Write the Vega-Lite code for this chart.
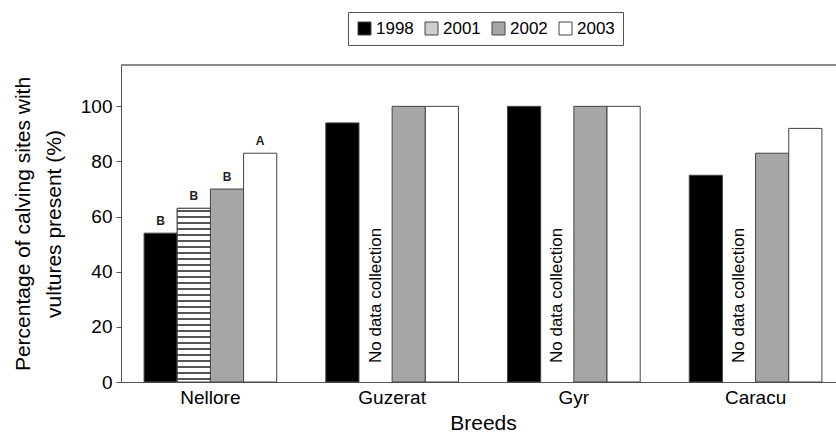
{
  "$schema": "https://vega.github.io/schema/vega-lite/v6.json",
  "width": 715,
  "height": 317,
  "autosize": {"type": "none"},
  "padding": {"left": 121, "top": 65, "right": 0, "bottom": 55},
  "config": {
    "font": "Liberation Sans",
    "view": {"stroke": null},
    "axis": {"labelFont": "Liberation Sans", "titleFont": "Liberation Sans", "labelColor": "#000", "titleColor": "#000"}
  },
  "datasets": {
    "bars": [
      {"breed": "Nellore", "year": "1998", "value": 54, "sig": "B"},
      {"breed": "Nellore", "year": "2001", "value": 63, "sig": "B"},
      {"breed": "Nellore", "year": "2002", "value": 70, "sig": "B"},
      {"breed": "Nellore", "year": "2003", "value": 83, "sig": "A"},
      {"breed": "Guzerat", "year": "1998", "value": 94, "sig": ""},
      {"breed": "Guzerat", "year": "2002", "value": 100, "sig": ""},
      {"breed": "Guzerat", "year": "2003", "value": 100, "sig": ""},
      {"breed": "Gyr", "year": "1998", "value": 100, "sig": ""},
      {"breed": "Gyr", "year": "2002", "value": 100, "sig": ""},
      {"breed": "Gyr", "year": "2003", "value": 100, "sig": ""},
      {"breed": "Caracu", "year": "1998", "value": 75, "sig": ""},
      {"breed": "Caracu", "year": "2002", "value": 83, "sig": ""},
      {"breed": "Caracu", "year": "2003", "value": 92, "sig": ""}
    ],
    "notes": [
      {"breed": "Guzerat", "year": "2001", "note": "No data collection"},
      {"breed": "Gyr", "year": "2001", "note": "No data collection"},
      {"breed": "Caracu", "year": "2001", "note": "No data collection"}
    ]
  },
  "layer": [
    {
      "data": {"name": "bars"},
      "mark": {"type": "bar", "stroke": "#444", "strokeWidth": 1},
      "encoding": {
        "x": {
          "field": "breed", "type": "nominal",
          "sort": ["Nellore", "Guzerat", "Gyr", "Caracu"],
          "scale": {"domain": ["Nellore", "Guzerat", "Gyr", "Caracu"], "range": [0, 724], "paddingInner": 0.27, "paddingOuter": 0.127},
          "axis": {
            "labelAngle": 0, "ticks": false, "tickSize": 0, "domainColor": "#555", "labelFontSize": 19,
            "labelPadding": 6, "title": "Breeds", "titleFontSize": 21, "titleFontWeight": "normal", "titlePadding": 5
          }
        },
        "xOffset": {
          "field": "year", "type": "nominal",
          "scale": {"domain": ["1998", "2001", "2002", "2003"], "paddingInner": 0, "paddingOuter": 0}
        },
        "y": {
          "field": "value", "type": "quantitative",
          "scale": {"domain": [0, 115], "nice": false},
          "axis": {
            "values": [0, 20, 40, 60, 80, 100], "grid": false, "domainColor": "#555", "tickColor": "#555",
            "tickSize": 5, "labelFontSize": 19, "labelPadding": 4,
            "title": ["Percentage of calving sites with", "vultures present (%)"],
            "titleFontSize": 21, "titleFontWeight": "normal", "titlePadding": 16, "titleLineHeight": 31
          }
        },
        "fill": {
          "field": "year", "type": "nominal",
          "scale": {
            "domain": ["1998", "2001", "2002", "2003"],
            "range": ["#000000", "#cdcdcd", "#a6a6a6", "#ffffff"]
          },
          "legend": {
            "orient": "none", "legendX": 227, "legendY": -53, "direction": "horizontal", "title": null,
            "strokeColor": "#555", "padding": 8, "labelFontSize": 17, "labelFont": "Liberation Sans", "labelColor": "#000",
            "symbolType": "square", "symbolSize": 169, "symbolStrokeColor": "#444", "symbolStrokeWidth": 1,
            "columnPadding": 9, "labelOffset": 3,
            "encode": {
              "symbols": {
                "update": {
                  "stroke": {"value": "#444"},
                  "strokeWidth": {"value": 1}
                }
              }
            }
          }
        }
      }
    },
    {
      "data": {"name": "bars"},
      "transform": [{"filter": "datum.year === '2001'"}],
      "mark": {
        "type": "bar", "stroke": "#444", "strokeWidth": 1,
        "fill": {"gradient": "linear", "x1": 0, "y1": 0, "x2": 0, "y2": 1, "stops": [
          {"offset": 0, "color": "#ffffff"},
          {"offset": 0.0121, "color": "#ffffff"}, {"offset": 0.0121, "color": "#555555"}, {"offset": 0.0224, "color": "#555555"}, {"offset": 0.0224, "color": "#ffffff"},
          {"offset": 0.0466, "color": "#ffffff"}, {"offset": 0.0466, "color": "#555555"}, {"offset": 0.0569, "color": "#555555"}, {"offset": 0.0569, "color": "#ffffff"},
          {"offset": 0.0811, "color": "#ffffff"}, {"offset": 0.0811, "color": "#555555"}, {"offset": 0.0914, "color": "#555555"}, {"offset": 0.0914, "color": "#ffffff"},
          {"offset": 0.1155, "color": "#ffffff"}, {"offset": 0.1155, "color": "#555555"}, {"offset": 0.1258, "color": "#555555"}, {"offset": 0.1258, "color": "#ffffff"},
          {"offset": 0.1500, "color": "#ffffff"}, {"offset": 0.1500, "color": "#555555"}, {"offset": 0.1603, "color": "#555555"}, {"offset": 0.1603, "color": "#ffffff"},
          {"offset": 0.1845, "color": "#ffffff"}, {"offset": 0.1845, "color": "#555555"}, {"offset": 0.1948, "color": "#555555"}, {"offset": 0.1948, "color": "#ffffff"},
          {"offset": 0.2190, "color": "#ffffff"}, {"offset": 0.2190, "color": "#555555"}, {"offset": 0.2293, "color": "#555555"}, {"offset": 0.2293, "color": "#ffffff"},
          {"offset": 0.2535, "color": "#ffffff"}, {"offset": 0.2535, "color": "#555555"}, {"offset": 0.2638, "color": "#555555"}, {"offset": 0.2638, "color": "#ffffff"},
          {"offset": 0.2879, "color": "#ffffff"}, {"offset": 0.2879, "color": "#555555"}, {"offset": 0.2982, "color": "#555555"}, {"offset": 0.2982, "color": "#ffffff"},
          {"offset": 0.3224, "color": "#ffffff"}, {"offset": 0.3224, "color": "#555555"}, {"offset": 0.3327, "color": "#555555"}, {"offset": 0.3327, "color": "#ffffff"},
          {"offset": 0.3569, "color": "#ffffff"}, {"offset": 0.3569, "color": "#555555"}, {"offset": 0.3672, "color": "#555555"}, {"offset": 0.3672, "color": "#ffffff"},
          {"offset": 0.3914, "color": "#ffffff"}, {"offset": 0.3914, "color": "#555555"}, {"offset": 0.4017, "color": "#555555"}, {"offset": 0.4017, "color": "#ffffff"},
          {"offset": 0.4259, "color": "#ffffff"}, {"offset": 0.4259, "color": "#555555"}, {"offset": 0.4362, "color": "#555555"}, {"offset": 0.4362, "color": "#ffffff"},
          {"offset": 0.4603, "color": "#ffffff"}, {"offset": 0.4603, "color": "#555555"}, {"offset": 0.4706, "color": "#555555"}, {"offset": 0.4706, "color": "#ffffff"},
          {"offset": 0.4948, "color": "#ffffff"}, {"offset": 0.4948, "color": "#555555"}, {"offset": 0.5051, "color": "#555555"}, {"offset": 0.5051, "color": "#ffffff"},
          {"offset": 0.5293, "color": "#ffffff"}, {"offset": 0.5293, "color": "#555555"}, {"offset": 0.5396, "color": "#555555"}, {"offset": 0.5396, "color": "#ffffff"},
          {"offset": 0.5638, "color": "#ffffff"}, {"offset": 0.5638, "color": "#555555"}, {"offset": 0.5741, "color": "#555555"}, {"offset": 0.5741, "color": "#ffffff"},
          {"offset": 0.5983, "color": "#ffffff"}, {"offset": 0.5983, "color": "#555555"}, {"offset": 0.6086, "color": "#555555"}, {"offset": 0.6086, "color": "#ffffff"},
          {"offset": 0.6328, "color": "#ffffff"}, {"offset": 0.6328, "color": "#555555"}, {"offset": 0.6431, "color": "#555555"}, {"offset": 0.6431, "color": "#ffffff"},
          {"offset": 0.6672, "color": "#ffffff"}, {"offset": 0.6672, "color": "#555555"}, {"offset": 0.6775, "color": "#555555"}, {"offset": 0.6775, "color": "#ffffff"},
          {"offset": 0.7017, "color": "#ffffff"}, {"offset": 0.7017, "color": "#555555"}, {"offset": 0.7120, "color": "#555555"}, {"offset": 0.7120, "color": "#ffffff"},
          {"offset": 0.7362, "color": "#ffffff"}, {"offset": 0.7362, "color": "#555555"}, {"offset": 0.7465, "color": "#555555"}, {"offset": 0.7465, "color": "#ffffff"},
          {"offset": 0.7707, "color": "#ffffff"}, {"offset": 0.7707, "color": "#555555"}, {"offset": 0.7810, "color": "#555555"}, {"offset": 0.7810, "color": "#ffffff"},
          {"offset": 0.8052, "color": "#ffffff"}, {"offset": 0.8052, "color": "#555555"}, {"offset": 0.8155, "color": "#555555"}, {"offset": 0.8155, "color": "#ffffff"},
          {"offset": 0.8397, "color": "#ffffff"}, {"offset": 0.8397, "color": "#555555"}, {"offset": 0.8500, "color": "#555555"}, {"offset": 0.8500, "color": "#ffffff"},
          {"offset": 0.8741, "color": "#ffffff"}, {"offset": 0.8741, "color": "#555555"}, {"offset": 0.8844, "color": "#555555"}, {"offset": 0.8844, "color": "#ffffff"},
          {"offset": 0.9086, "color": "#ffffff"}, {"offset": 0.9086, "color": "#555555"}, {"offset": 0.9189, "color": "#555555"}, {"offset": 0.9189, "color": "#ffffff"},
          {"offset": 0.9431, "color": "#ffffff"}, {"offset": 0.9431, "color": "#555555"}, {"offset": 0.9534, "color": "#555555"}, {"offset": 0.9534, "color": "#ffffff"},
          {"offset": 0.9776, "color": "#ffffff"}, {"offset": 0.9776, "color": "#555555"}, {"offset": 0.9879, "color": "#555555"}, {"offset": 0.9879, "color": "#ffffff"},
          {"offset": 1, "color": "#ffffff"}
        ]}
      },
      "encoding": {
        "x": {"field": "breed", "type": "nominal", "sort": ["Nellore", "Guzerat", "Gyr", "Caracu"]},
        "xOffset": {"field": "year", "type": "nominal"},
        "y": {"field": "value", "type": "quantitative"}
      }
    },
    {
      "data": {"name": "bars"},
      "mark": {"type": "text", "baseline": "bottom", "dy": -5, "fontSize": 12, "fontWeight": "bold", "color": "#222", "font": "Liberation Sans"},
      "encoding": {
        "x": {"field": "breed", "type": "nominal", "sort": ["Nellore", "Guzerat", "Gyr", "Caracu"]},
        "xOffset": {"field": "year", "type": "nominal"},
        "y": {"field": "value", "type": "quantitative"},
        "text": {"field": "sig"}
      }
    },
    {
      "data": {"name": "notes"},
      "mark": {"type": "text", "angle": 270, "align": "left", "baseline": "middle", "dx": 19, "fontSize": 17, "color": "#000", "font": "Liberation Sans"},
      "encoding": {
        "x": {"field": "breed", "type": "nominal", "sort": ["Nellore", "Guzerat", "Gyr", "Caracu"]},
        "xOffset": {"field": "year", "type": "nominal"},
        "y": {"datum": 0},
        "text": {"field": "note"}
      }
    },
    {
      "data": {"values": [{}]},
      "mark": {"type": "rule", "color": "#666", "strokeWidth": 1.5},
      "encoding": {"y": {"datum": 115}}
    }
  ]
}
